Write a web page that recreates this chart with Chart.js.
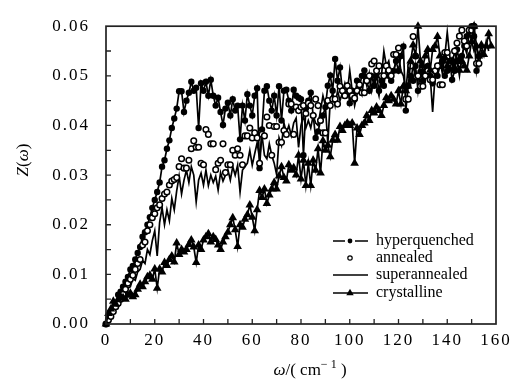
<!DOCTYPE html>
<html>
<head>
<meta charset="utf-8">
<script src="https://cdn.jsdelivr.net/npm/chart.js@4/dist/chart.umd.min.js"></script>
<style>
  html, body { margin: 0; padding: 0; background: #fff; }
  #wrap { width: 525px; height: 381px; }
</style>
</head>
<body>
<div id="wrap"><canvas id="chart" width="525" height="381"></canvas></div>
<script>
// frequency grid in cm^-1 (1 cm^-1 spacing); each curve uses the first N entries
const omega = Array.from({ length: 159 }, (_, i) => i);

const hyperquenched = [
  0, 0.0012, 0.002, 0.0032, 0.0042, 0.0059, 0.0065, 0.0075, 0.0085, 0.0095,
  0.011, 0.0117, 0.013, 0.0143, 0.0155, 0.0176, 0.0185, 0.02, 0.0215, 0.0234,
  0.025, 0.0266, 0.0285, 0.0317, 0.033, 0.0353, 0.037, 0.0395, 0.0414, 0.0434,
  0.0469, 0.0469, 0.0427, 0.045, 0.0466, 0.0488, 0.047, 0.0476, 0.0395, 0.0485,
  0.047, 0.0488, 0.046, 0.0492, 0.046, 0.044, 0.0456, 0.0427, 0.0401, 0.0434,
  0.0446, 0.042, 0.0453, 0.043, 0.044, 0.0372, 0.044, 0.041, 0.0463, 0.044,
  0.042, 0.046, 0.0475, 0.0314, 0.0392, 0.047, 0.0479, 0.045, 0.043, 0.046,
  0.042, 0.0479, 0.041, 0.047, 0.0472, 0.045, 0.043, 0.0472, 0.046, 0.0456,
  0.0453, 0.034, 0.0434, 0.045, 0.0466, 0.042, 0.0375, 0.0388, 0.041, 0.042,
  0.0437, 0.048, 0.0501, 0.047, 0.0534, 0.049, 0.0517, 0.047, 0.046, 0.048,
  0.0445, 0.047, 0.0453, 0.049, 0.048, 0.05, 0.0511, 0.049, 0.047, 0.05,
  0.048, 0.05, 0.047, 0.049, 0.048, 0.052, 0.05, 0.049, 0.051, 0.053,
  0.051, 0.054, 0.0559, 0.043, 0.048, 0.05, 0.049, 0.052, 0.047, 0.0508,
  0.049, 0.051, 0.052, 0.05, 0.0485, 0.051, 0.05, 0.052, 0.053, 0.05,
  0.051, 0.053, 0.0492, 0.051, 0.0553, 0.053, 0.054, 0.056, 0.058, 0.059,
  0.06, 0.058, 0.051, 0.054
];

const annealed = [
  0, 0.0008, 0.0015, 0.0025, 0.0035, 0.0042, 0.005, 0.006, 0.007, 0.0082,
  0.009, 0.0098, 0.011, 0.0122, 0.013, 0.0159, 0.0165, 0.0188, 0.02, 0.0214,
  0.0222, 0.0234, 0.024, 0.0253, 0.0262, 0.0266, 0.028, 0.0288, 0.0291, 0.0295,
  0.0317, 0.0333, 0.0314, 0.0314, 0.033, 0.0353, 0.0369, 0.0356, 0.0356, 0.0324,
  0.0321, 0.0392, 0.0382, 0.0363, 0.0363, 0.0311, 0.0324, 0.033, 0.0363, 0.0305,
  0.0321, 0.0321, 0.035, 0.034, 0.0353, 0.034, 0.0321, 0.0379, 0.0379, 0.0395,
  0.0375, 0.0385, 0.0375, 0.0324, 0.0382, 0.0379, 0.0417, 0.04, 0.034, 0.0398,
  0.0398, 0.0366, 0.0366, 0.039, 0.0382, 0.0443, 0.0443, 0.0382, 0.0437, 0.043,
  0.0437, 0.044, 0.0424, 0.0445, 0.044, 0.042, 0.0453, 0.044, 0.041, 0.0385,
  0.0385, 0.045, 0.044, 0.0453, 0.0453, 0.0443, 0.0479, 0.047, 0.046, 0.048,
  0.047, 0.046, 0.0455, 0.047, 0.0482, 0.0466, 0.0466, 0.049, 0.05, 0.0524,
  0.053, 0.051, 0.052, 0.05, 0.05, 0.052, 0.0511, 0.05, 0.0543, 0.0543,
  0.0556, 0.0472, 0.0472, 0.0453, 0.0453, 0.052, 0.0579, 0.054, 0.05, 0.0479,
  0.0479, 0.05, 0.051, 0.0492, 0.0492, 0.051, 0.052, 0.0482, 0.0482, 0.0547,
  0.0547, 0.052, 0.053, 0.055, 0.0566, 0.058, 0.0592, 0.057, 0.056, 0.0592,
  0.0592, 0.06, 0.0525, 0.0525
];

const superannealed = [
  0, 0.0008, 0.0015, 0.002, 0.003, 0.0042, 0.0045, 0.0055, 0.006, 0.0072,
  0.0075, 0.0092, 0.0088, 0.0105, 0.011, 0.0128, 0.0122, 0.015, 0.014, 0.0168,
  0.0188, 0.0137, 0.0205, 0.0234, 0.02, 0.023, 0.0208, 0.0253, 0.023, 0.0268,
  0.0298, 0.0262, 0.029, 0.031, 0.0285, 0.0317, 0.03, 0.0246, 0.029, 0.0304,
  0.028, 0.031, 0.0279, 0.03, 0.0285, 0.0298, 0.027, 0.0305, 0.0288, 0.03,
  0.0311, 0.029, 0.0317, 0.03, 0.032, 0.0266, 0.031, 0.0317, 0.0324, 0.035,
  0.032, 0.0343, 0.0365, 0.0333, 0.038, 0.034, 0.0333, 0.0363, 0.034, 0.0324,
  0.0301, 0.0375, 0.036, 0.0405, 0.0385, 0.04, 0.038, 0.0405, 0.0415, 0.0356,
  0.04, 0.042, 0.0395, 0.041, 0.0395, 0.042, 0.0405, 0.04, 0.043, 0.046,
  0.044, 0.0363, 0.045, 0.0466, 0.044, 0.047, 0.045, 0.0466, 0.0485, 0.0466,
  0.0511, 0.047, 0.044, 0.0463, 0.048, 0.0463, 0.0501, 0.048, 0.0505, 0.047,
  0.0495, 0.048, 0.046, 0.05, 0.055, 0.052, 0.053, 0.05, 0.051, 0.053,
  0.0543, 0.051, 0.05, 0.047, 0.052, 0.049, 0.052, 0.05, 0.049, 0.053,
  0.051, 0.049, 0.052, 0.05, 0.0427, 0.05, 0.051, 0.053, 0.0505, 0.054,
  0.0588, 0.054, 0.052, 0.055, 0.053, 0.05, 0.054, 0.056, 0.0545, 0.059,
  0.057, 0.055, 0.056, 0.052, 0.055, 0.054, 0.057, 0.055
];

const crystalline = [
  0, 0.0021, 0.003, 0.0046, 0.004, 0.005, 0.0055, 0.0053, 0.005, 0.0058,
  0.0062, 0.0055, 0.0059, 0.007, 0.008, 0.0075, 0.0085, 0.0095, 0.0098, 0.009,
  0.0111, 0.0072, 0.0111, 0.0105, 0.0124, 0.0118, 0.013, 0.0137, 0.0125, 0.0163,
  0.014, 0.015, 0.0145, 0.015, 0.016, 0.0169, 0.0155, 0.0124, 0.0159, 0.015,
  0.0169, 0.0176, 0.0182, 0.0165, 0.0176, 0.017, 0.0159, 0.015, 0.0165, 0.0176,
  0.0185, 0.02, 0.0214, 0.019, 0.0156, 0.02, 0.0195, 0.0211, 0.022, 0.024,
  0.0215, 0.0188, 0.023, 0.0269, 0.0255, 0.0272, 0.0243, 0.026, 0.0272, 0.0285,
  0.0272, 0.0298, 0.0317, 0.0295, 0.0288, 0.0321, 0.031, 0.0315, 0.03, 0.034,
  0.0292, 0.033, 0.0279, 0.0324, 0.0279, 0.033, 0.031, 0.0353, 0.0304, 0.0369,
  0.035, 0.036, 0.0337, 0.037, 0.0382, 0.037, 0.0398, 0.039, 0.04, 0.0405,
  0.04, 0.0405, 0.0324, 0.0395, 0.0382, 0.04, 0.0405, 0.042, 0.041, 0.043,
  0.0425, 0.0437, 0.043, 0.042, 0.044, 0.0456, 0.045, 0.046, 0.0453, 0.0443,
  0.047, 0.0443, 0.0479, 0.047, 0.0479, 0.053, 0.0562, 0.054, 0.06, 0.053,
  0.052, 0.054, 0.0553, 0.0511, 0.0553, 0.056, 0.0579, 0.054, 0.053, 0.0537,
  0.052, 0.0514, 0.053, 0.0517, 0.053, 0.0511, 0.053, 0.052, 0.0511, 0.054,
  0.0569, 0.06, 0.056, 0.054, 0.0562, 0.0543, 0.056, 0.0585, 0.056
];

const seriesNames = ['hyperquenched', 'annealed', 'superannealed', 'crystalline'];
const xTicks = [0, 20, 40, 60, 80, 100, 120, 140, 160];
const yTicks = [0, 0.01, 0.02, 0.03, 0.04, 0.05, 0.06];

const SERIF = '"Liberation Serif", "DejaVu Serif", serif';
const INK = '#000';
const LINE_W = 1.7;

function toPoints(values) {
  return values.map((v, i) => ({ x: omega[i], y: v }));
}

const datasets = [
  {
    label: seriesNames[0],
    data: toPoints(hyperquenched),
    borderColor: INK, backgroundColor: INK, borderWidth: LINE_W,
    pointStyle: 'circle', pointRadius: 3.2, pointBorderWidth: 0,
    showLine: true, order: 2
  },
  {
    label: seriesNames[1],
    data: toPoints(annealed),
    borderColor: INK, backgroundColor: '#fff',
    pointStyle: 'circle', pointRadius: 2.8, pointBorderWidth: 1.5,
    showLine: false, order: 1
  },
  {
    label: seriesNames[2],
    data: toPoints(superannealed),
    borderColor: INK, borderWidth: LINE_W, pointRadius: 0,
    showLine: true, order: 3
  },
  {
    label: seriesNames[3],
    data: toPoints(crystalline),
    borderColor: INK, backgroundColor: INK, borderWidth: LINE_W,
    pointStyle: 'triangle', pointRadius: 5, pointBorderWidth: 0,
    showLine: true, order: 0
  }
];

// frame, inward ticks, axis titles and the inset legend
const decorations = {
  id: 'decorations',
  beforeDraw(chart) {
    chart.ctx.letterSpacing = '2px';
  },
  beforeDatasetsDraw(chart) {
    chart.ctx.letterSpacing = '0px';
  },
  afterDraw(chart) {
    const ctx = chart.ctx;
    const area = chart.chartArea;
    const xs = chart.scales.x, ys = chart.scales.y;
    ctx.save();
    ctx.letterSpacing = '0px';
    ctx.strokeStyle = '#222';
    ctx.lineWidth = 1.7;
    ctx.strokeRect(area.left, area.top, area.right - area.left, area.bottom - area.top);

    ctx.lineWidth = 1.3;
    ctx.beginPath();
    for (let v = 10; v < 160; v += 10) {
      const px = xs.getPixelForValue(v);
      ctx.moveTo(px, area.bottom);
      ctx.lineTo(px, area.bottom - 5);
    }
    for (let k = 1; k < 12; k++) {
      const py = ys.getPixelForValue(k * 0.005);
      ctx.moveTo(area.left, py);
      ctx.lineTo(area.left + 5, py);
    }
    ctx.stroke();

    // x title: ω/(cm^-1)
    ctx.fillStyle = INK;
    ctx.textBaseline = 'alphabetic';
    const parts = [
      { t: '\u03c9', f: 'italic 17px ' + SERIF, dy: 0 },
      { t: '/( cm', f: '17px ' + SERIF, dy: 0 },
      { t: '\u2212 1', f: '12px ' + SERIF, dy: -7 },
      { t: ' )', f: '17px ' + SERIF, dy: 0 }
    ];
    let total = 0;
    parts.forEach(p => { ctx.font = p.f; p.w = ctx.measureText(p.t).width; total += p.w; });
    let cx = 310 - total / 2;
    parts.forEach(p => { ctx.font = p.f; ctx.textAlign = 'left'; ctx.fillText(p.t, cx, 375 + p.dy); cx += p.w; });

    // y title: Z(ω), rotated
    ctx.save();
    ctx.translate(28, 160);
    ctx.rotate(-Math.PI / 2);
    const yParts = [
      { t: 'Z', f: 'italic 17px ' + SERIF },
      { t: '(', f: '17px ' + SERIF },
      { t: '\u03c9', f: 'italic 17px ' + SERIF },
      { t: ')', f: '17px ' + SERIF }
    ];
    total = 0;
    yParts.forEach(p => { ctx.font = p.f; p.w = ctx.measureText(p.t).width; total += p.w; });
    cx = -total / 2;
    yParts.forEach(p => { ctx.font = p.f; ctx.fillText(p.t, cx, 0); cx += p.w; });
    ctx.restore();

    // legend
    const rows = [241, 258, 275, 293];
    const x0 = 333, x1 = 368, xm = 350;
    ctx.font = '16px ' + SERIF;
    ctx.textBaseline = 'middle';
    ctx.strokeStyle = INK;
    ctx.lineWidth = 1.4;
    chart.data.datasets.forEach((ds, i) => {
      const y = rows[i];
      ctx.beginPath();
      if (i === 0) {
        ctx.moveTo(x0, y); ctx.lineTo(xm - 5, y);
        ctx.moveTo(xm + 5, y); ctx.lineTo(x1, y);
      } else if (i !== 1) {
        ctx.moveTo(x0, y); ctx.lineTo(x1, y);
      }
      ctx.stroke();
      if (i === 0 || i === 3) {
        ctx.fillStyle = INK;
        Chart.helpers.drawPoint(ctx, { pointStyle: ds.pointStyle, radius: i === 0 ? 2.4 : 4.3, borderWidth: 0, rotation: 0 }, xm, y);
      } else if (i === 1) {
        ctx.fillStyle = '#fff';
        ctx.lineWidth = 1.2;
        Chart.helpers.drawPoint(ctx, { pointStyle: 'circle', radius: 2.2, borderWidth: 1.2, rotation: 0 }, xm, y);
        ctx.lineWidth = 1.4;
      }
      ctx.fillStyle = INK;
      ctx.fillText(ds.label, 376, y);
    });
    ctx.restore();
  }
};

new Chart(document.getElementById('chart'), {
  type: 'scatter',
  data: { datasets },
  options: {
    responsive: false,
    animation: false,
    events: [],
    layout: { padding: { left: 0, right: 29, top: 14, bottom: 0 } },
    datasets: { scatter: { clip: false } },
    plugins: { legend: { display: false }, tooltip: { enabled: false } },
    scales: {
      x: {
        type: 'linear', min: 0, max: 160,
        afterFit(s) { s.height = 57; },
        afterBuildTicks(s) { s.ticks = xTicks.map(v => ({ value: v })); },
        grid: { display: false, drawTicks: false },
        border: { display: false },
        ticks: { color: INK, padding: 6, maxRotation: 0, autoSkip: false, font: { family: SERIF, size: 17 } }
      },
      y: {
        type: 'linear', min: 0, max: 0.06,
        afterFit(s) { s.width = 106; },
        afterBuildTicks(s) { s.ticks = yTicks.map(v => ({ value: v })); },
        grid: { display: false, drawTicks: false },
        border: { display: false },
        ticks: { color: INK, padding: 16, autoSkip: false, font: { family: SERIF, size: 17 },
          callback: v => v.toFixed(2) }
      }
    }
  },
  plugins: [decorations]
});
</script>
</body>
</html>
